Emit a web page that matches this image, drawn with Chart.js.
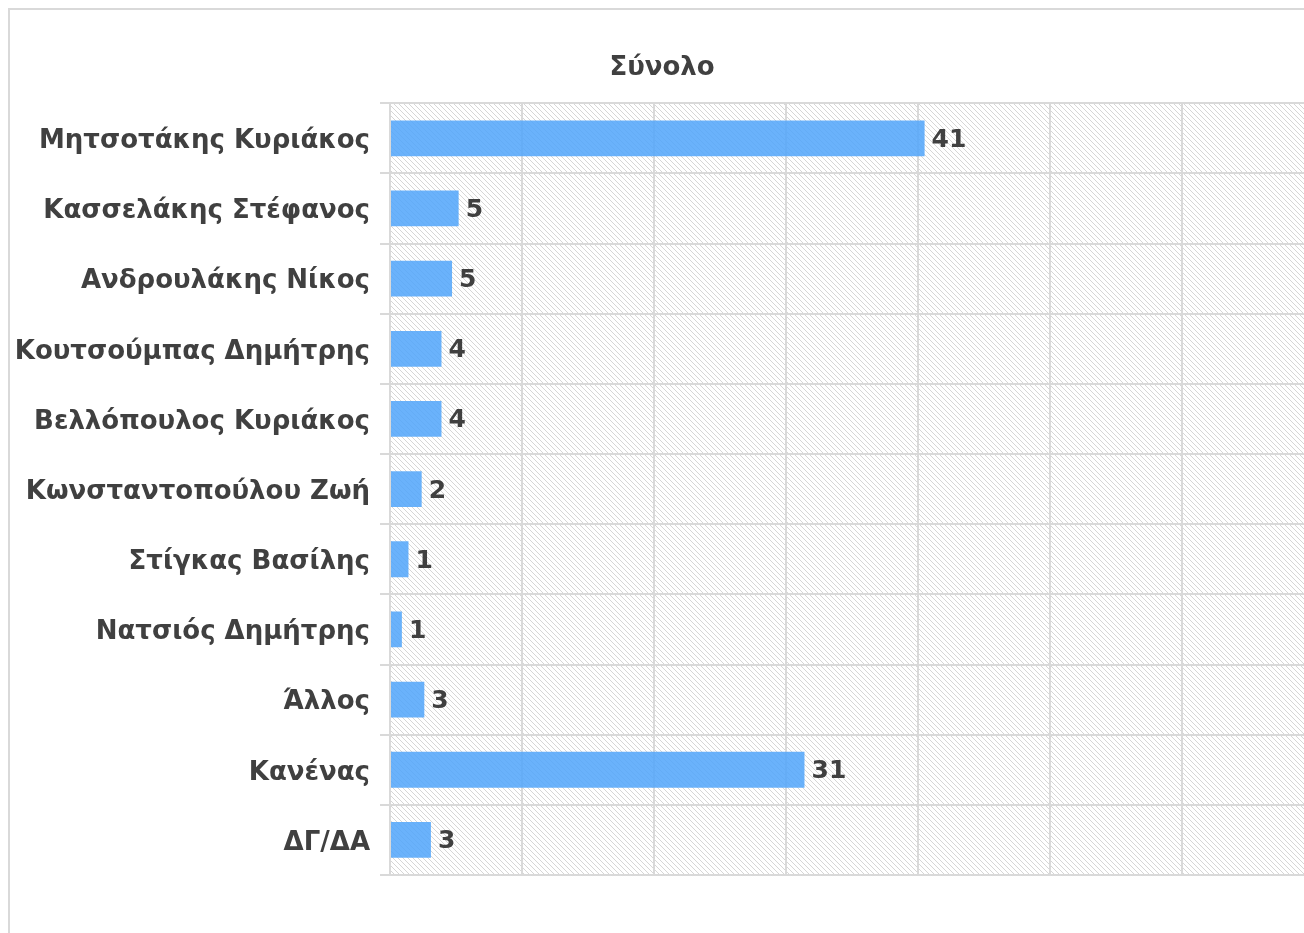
<!DOCTYPE html>
<html>
<head>
<meta charset="utf-8">
<script src="https://cdn.jsdelivr.net/npm/chart.js@4"></script>
<style>
  html, body { margin: 0; padding: 0; background: #fff; overflow: hidden; width: 1304px; height: 933px; }
  #frame { position: absolute; left: 8px; top: 8px; width: 1320px; height: 950px; border: 2px solid #d9d9d9; background: #fff; }
  #c { position: absolute; left: 0; top: 0; }
</style>
</head>
<body>
<div id="frame"><canvas id="c" width="1320" height="950"></canvas></div>
<script>
const categories = [
  "Μητσοτάκης Κυριάκος",
  "Κασσελάκης Στέφανος",
  "Ανδρουλάκης Νίκος",
  "Κουτσούμπας Δημήτρης",
  "Βελλόπουλος Κυριάκος",
  "Κωνσταντοπούλου Ζωή",
  "Στίγκας Βασίλης",
  "Νατσιός Δημήτρης",
  "Άλλος",
  "Κανένας",
  "ΔΓ/ΔΑ"
];
const values = [40.5, 5.2, 4.7, 3.9, 3.9, 2.4, 1.4, 0.9, 2.6, 31.4, 3.1];
const valueLabels = ["41", "5", "5", "4", "4", "2", "1", "1", "3", "31", "3"];
const chartTitle = "Σύνολο";

const FONT = "'DejaVu Sans', sans-serif";
const TEXT = "#404040";
const GRID = "#d9d9d9";

function makePattern(ctx) {
  const s = 5;
  const t = document.createElement('canvas');
  t.width = s; t.height = s;
  const g = t.getContext('2d');
  g.fillStyle = '#ffffff';
  g.fillRect(0, 0, s, s);
  g.strokeStyle = 'rgba(200,200,200,0.75)';
  g.lineWidth = 1;
  g.beginPath();
  g.moveTo(-1, -1); g.lineTo(s + 1, s + 1);
  g.moveTo(-1, s - 1); g.lineTo(1, s + 1);
  g.moveTo(s - 1, -1); g.lineTo(s + 1, 1);
  g.stroke();
  return ctx.createPattern(t, 'repeat');
}

const hatchPlugin = {
  id: 'hatch',
  beforeDraw(chart) {
    const { ctx, chartArea: a } = chart;
    ctx.save();
    ctx.fillStyle = makePattern(ctx);
    ctx.fillRect(a.left, a.top, a.right - a.left, a.bottom - a.top);
    ctx.restore();
  }
};

const labelPlugin = {
  id: 'valueLabels',
  afterDatasetsDraw(chart) {
    const { ctx } = chart;
    const meta = chart.getDatasetMeta(0);
    ctx.save();
    ctx.font = "bold 25px " + FONT;
    ctx.fillStyle = TEXT;
    ctx.textAlign = 'left';
    ctx.textBaseline = 'middle';
    meta.data.forEach((bar, i) => {
      ctx.fillText(valueLabels[i], bar.x + 7, bar.y + 2);
    });
    ctx.restore();
  }
};

new Chart(document.getElementById('c'), {
  type: 'bar',
  data: {
    labels: categories,
    datasets: [{
      data: values,
      backgroundColor: 'rgba(80,165,250,0.85)',
      borderWidth: 0,
      categoryPercentage: 1,
      barPercentage: 0.51
    }]
  },
  options: {
    indexAxis: 'y',
    responsive: false,
    animation: false,
    devicePixelRatio: 1,
    layout: { padding: { left: 0, right: 16, top: 0, bottom: 0 } },
    plugins: {
      legend: { display: false },
      tooltip: { enabled: false },
      title: {
        display: true,
        text: chartTitle,
        color: TEXT,
        font: { family: FONT, size: 26, weight: 'bold', lineHeight: 1.2 },
        padding: { top: 43, bottom: 19 }
      }
    },
    scales: {
      x: {
        min: 0, max: 70,
        ticks: { display: false, stepSize: 10 },
        grid: { color: GRID, lineWidth: 2, drawTicks: false },
        border: { display: false },
        afterFit(scale) { scale.height = 85; }
      },
      y: {
        ticks: {
          color: TEXT,
          padding: 10,
          labelOffset: 3,
          font: { family: FONT, size: 26, weight: 'bold' }
        },
        grid: { color: GRID, lineWidth: 2, offset: true, tickLength: 10 },
        border: { display: true, color: GRID, width: 2 },
        afterFit(scale) { scale.width = 380; }
      }
    }
  },
  plugins: [hatchPlugin, labelPlugin]
});
</script>
</body>
</html>
